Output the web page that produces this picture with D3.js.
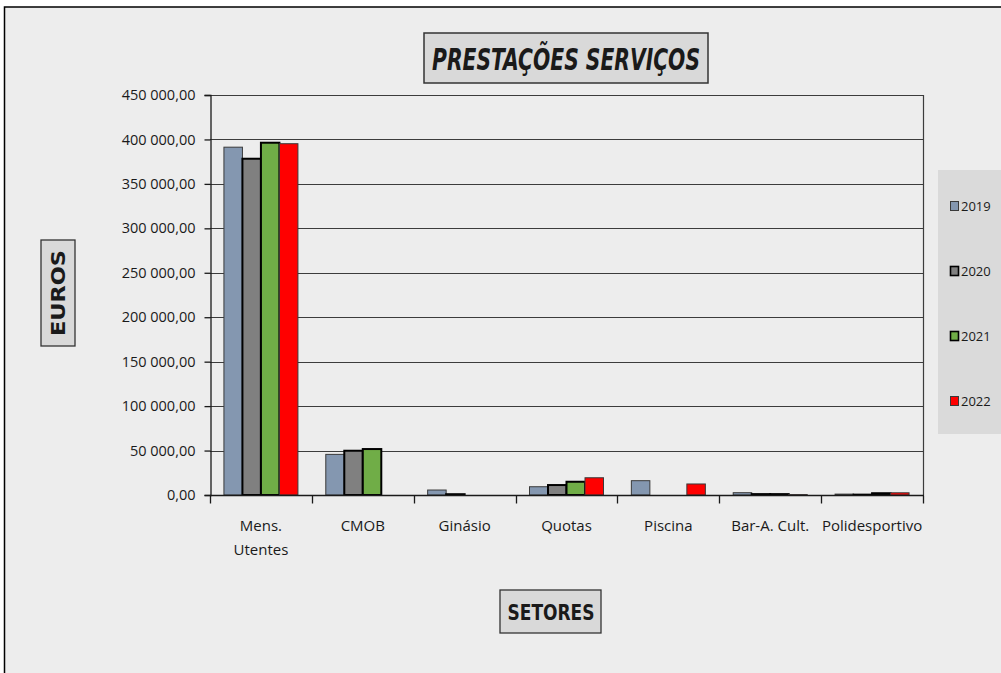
<!DOCTYPE html>
<html>
<head>
<meta charset="utf-8">
<script src="https://d3js.org/d3.v7.min.js"></script>
<style>
  body { margin: 0; background: #fff; }
  svg text { fill: #1a1a1a; }
</style>
</head>
<body>
<div id="chart"></div>
<script>
// categories and yearly values (euros)
var sectors = ["Mens. Utentes", "CMOB", "Ginásio", "Quotas", "Piscina", "Bar-A. Cult.", "Polidesportivo"];
var years = ["2019", "2020", "2021", "2022"];
var v2019 = [391300, 45700, 5600, 9300, 16100, 2600, 1000];
var v2020 = [378300, 49800, 900, 11200, 0, 1000, 400];
var v2021 = [396300, 51700, 0, 14900, 0, 1000, 2000];
var v2022 = [395200, 0, 0, 19400, 12400, 500, 2500];
var yTicks = [0, 50000, 100000, 150000, 200000, 250000, 300000, 350000, 400000, 450000];

var series = [v2019, v2020, v2021, v2022];
var fills = ["#8497b0", "#808080", "#70ad47", "#ff0000"];
var strokes = ["#3a3a3a", "#000", "#000", "#3a3a3a"];
var strokeW = [1, 2, 2, 1];

var W = 1001, H = 673;
var plotL = 210, plotR = 923, plotT = 95, plotB = 495;

var svg = d3.select("#chart").append("svg")
  .attr("width", W).attr("height", H);

// chart frame
svg.append("rect")
  .attr("x", 4.5).attr("y", 7).attr("width", 1010).attr("height", 700)
  .attr("fill", "#ededed").attr("stroke", "#000").attr("stroke-width", 1.5);

var x0 = d3.scaleBand().domain(sectors).range([plotL, plotR])
  .paddingInner(0.2735).paddingOuter(0.13675);
var x1 = d3.scaleBand().domain(years).range([0, x0.bandwidth()]);
var y = d3.scaleLinear().domain([0, 450000]).range([plotB, plotT]);

// gridlines
svg.append("g").selectAll("line").data(yTicks.slice(1)).enter().append("line")
  .attr("x1", plotL).attr("x2", plotR)
  .attr("y1", function(d) { return Math.round(y(d)) + 0.5; })
  .attr("y2", function(d) { return Math.round(y(d)) + 0.5; })
  .attr("stroke", "#3c3c3c").attr("stroke-width", 1.2);

// right edge of plot
svg.append("line")
  .attr("x1", plotR + 0.5).attr("x2", plotR + 0.5).attr("y1", plotT).attr("y2", plotB)
  .attr("stroke", "#3c3c3c").attr("stroke-width", 1.2);

// y axis
var fmt = function(d) {
  return d3.format(",.2f")(d).replace(/,/g, " ").replace(".", ",");
};
var yAxis = svg.append("g")
  .attr("transform", "translate(" + (plotL + 0.5) + ",0)")
  .call(d3.axisLeft(y).tickValues(yTicks).tickFormat(fmt).tickSize(6).tickPadding(9));
yAxis.select(".domain").attr("stroke", "#1a1a1a").attr("stroke-width", 1.3);
yAxis.selectAll(".tick line").attr("stroke", "#1a1a1a").attr("stroke-width", 1.3);
yAxis.selectAll(".tick text")
  .style("font-family", "'Open Sans', sans-serif").style("font-size", "14.5px")
  .attr("fill", "#1a1a1a");

// bars
var groups = svg.append("g").selectAll("g").data(sectors).enter().append("g")
  .attr("transform", function(d) { return "translate(" + x0(d) + ",0)"; });

groups.selectAll("rect")
  .data(function(d, i) {
    return years.map(function(yr, k) { return { year: yr, k: k, value: series[k][i] }; });
  })
  .enter().filter(function(d) { return d.value > 0; })
  .append("rect")
  .attr("x", function(d) { return x1(d.year); })
  .attr("width", x1.bandwidth())
  .attr("y", function(d) { return y(d.value); })
  .attr("height", function(d) { return plotB - y(d.value); })
  .attr("fill", function(d) { return fills[d.k]; })
  .attr("stroke", function(d) { return strokes[d.k]; })
  .attr("stroke-width", function(d) { return strokeW[d.k]; });

// x axis
var xAxis = svg.append("g")
  .attr("transform", "translate(0," + (plotB + 0.5) + ")");
xAxis.append("line")
  .attr("x1", plotL).attr("x2", plotR + 1)
  .attr("stroke", "#1a1a1a").attr("stroke-width", 1.3);
var bounds = sectors.map(function(s) { return x0(s) - x0.step() * x0.paddingInner() / 2; });
bounds.push(plotR);
xAxis.selectAll("line.tk").data(bounds).enter().append("line")
  .attr("class", "tk")
  .attr("x1", function(d) { return Math.round(d) + 0.5; })
  .attr("x2", function(d) { return Math.round(d) + 0.5; })
  .attr("y1", 0).attr("y2", 8)
  .attr("stroke", "#1a1a1a").attr("stroke-width", 1.3);

var labels = xAxis.selectAll("text.lbl").data(sectors).enter().append("text")
  .attr("class", "lbl")
  .attr("x", function(d) { return x0(d) + x0.bandwidth() / 2; })
  .attr("y", 35)
  .attr("text-anchor", "middle")
  .style("font-family", "'Open Sans', sans-serif").style("font-size", "15px");
labels.each(function(d) {
  var t = d3.select(this);
  var parts = d === "Mens. Utentes" ? ["Mens.", "Utentes"] : [d];
  parts.forEach(function(p, i) {
    t.append("tspan").attr("x", x0(d) + x0.bandwidth() / 2).attr("dy", i === 0 ? 0 : 24).text(p);
  });
});

// title box
svg.append("rect")
  .attr("x", 424).attr("y", 33).attr("width", 284).attr("height", 50)
  .attr("fill", "#d9d9d9").attr("stroke", "#333").attr("stroke-width", 1.5);
svg.append("text")
  .attr("x", 566).attr("y", 70).attr("text-anchor", "middle")
  .attr("textLength", 268).attr("lengthAdjust", "spacingAndGlyphs")
  .style("font-family", "'DejaVu Sans Condensed', 'Liberation Sans Narrow', sans-serif")
  .style("font-size", "31px").style("font-weight", "bold").style("font-style", "italic")
  .attr("fill", "#000")
  .text("PRESTAÇÕES SERVIÇOS");

// y axis title
svg.append("rect")
  .attr("x", 41).attr("y", 240).attr("width", 34).attr("height", 106)
  .attr("fill", "#d9d9d9").attr("stroke", "#333").attr("stroke-width", 1.3);
svg.append("text")
  .attr("transform", "translate(65,293) rotate(-90)")
  .attr("text-anchor", "middle")
  .attr("textLength", 86).attr("lengthAdjust", "spacingAndGlyphs")
  .style("font-family", "'DejaVu Sans', sans-serif")
  .style("font-size", "19px").style("font-weight", "bold")
  .attr("fill", "#000")
  .text("EUROS");

// x axis title
svg.append("rect")
  .attr("x", 500).attr("y", 590).attr("width", 101).attr("height", 43)
  .attr("fill", "#d9d9d9").attr("stroke", "#333").attr("stroke-width", 1.3);
svg.append("text")
  .attr("x", 551).attr("y", 620).attr("text-anchor", "middle")
  .attr("textLength", 87).attr("lengthAdjust", "spacingAndGlyphs")
  .style("font-family", "'DejaVu Sans Condensed', 'Liberation Sans Narrow', sans-serif")
  .style("font-size", "21px").style("font-weight", "bold")
  .attr("fill", "#000")
  .text("SETORES");

// legend
svg.append("rect")
  .attr("x", 938).attr("y", 170).attr("width", 70).attr("height", 264)
  .attr("fill", "#dadada");
var legendY = d3.scalePoint().domain(years).range([206, 401]);
var items = svg.append("g").selectAll("g").data(years).enter().append("g")
  .attr("transform", function(d) { return "translate(950," + legendY(d) + ")"; });
items.append("rect")
  .attr("x", 0.5).attr("y", -4.5).attr("width", 8).attr("height", 9)
  .attr("fill", function(d, i) { return fills[i]; })
  .attr("stroke", function(d, i) { return strokes[i]; })
  .attr("stroke-width", function(d, i) { return strokeW[i] === 2 ? 1.6 : 1; });
items.append("text")
  .attr("x", 11).attr("y", 5)
  .style("font-family", "'Open Sans', sans-serif").style("font-size", "13px")
  .text(function(d) { return d; });
</script>
</body>
</html>
